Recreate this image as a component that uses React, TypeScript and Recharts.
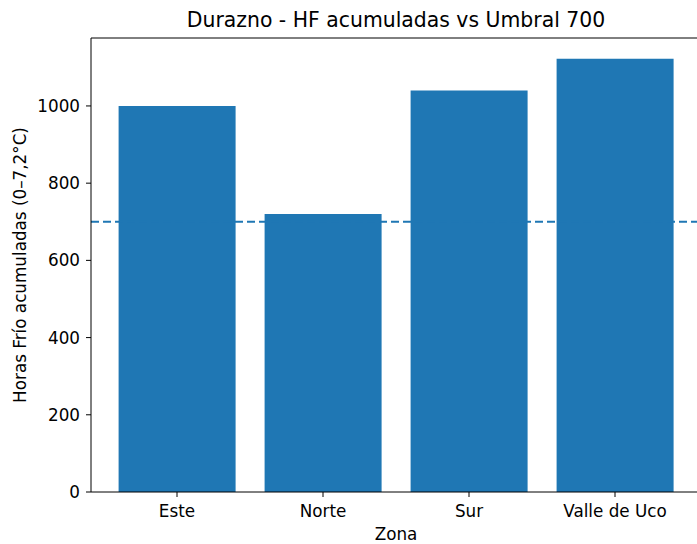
import { BarChart, Bar, XAxis, YAxis, ReferenceLine } from 'recharts'

const zonas = ['Este', 'Norte', 'Sur', 'Valle de Uco']
const horasFrio = [1000, 720, 1040, 1122]
const umbral = 700
const yTicks = [0, 200, 400, 600, 800, 1000]

const data = zonas.map((zona, i) => ({ zona, hf: horasFrio[i] }))

const font = 'DejaVu Sans, sans-serif'
const blue = '#1f77b4'
const fs = 16.8

export default function App() {
  return (
    <div
      style={{
        position: 'fixed',
        top: 0,
        left: 0,
        width: 697,
        height: 544,
        overflow: 'hidden',
        background: '#fff',
        fontFamily: font,
      }}
    >
      <div
        style={{
          position: 'absolute',
          top: 8,
          left: 91,
          width: 610,
          textAlign: 'center',
          fontSize: 20.4,
          lineHeight: '24px',
          color: '#000',
        }}
      >
        Durazno - HF acumuladas vs Umbral 700
      </div>
      <BarChart
        width={710}
        height={544}
        data={data}
        margin={{ top: 38, right: 9, bottom: 0, left: 0 }}
        barCategoryGap="10%"
      >
        <XAxis
          dataKey="zona"
          height={52}
          padding={{ left: 13, right: 13 }}
          axisLine={{ stroke: '#000', strokeWidth: 1 }}
          tickLine={{ stroke: '#000' }}
          tickSize={5}
          tick={{ fill: '#000', fontSize: fs, fontFamily: font, dy: 6 }}
          label={{ value: 'Zona', position: 'insideBottom', offset: 0, dy: -4, fill: '#000', fontSize: fs, fontFamily: font }}
        />
        <YAxis
          domain={[0, 1176]}
          ticks={yTicks}
          allowDataOverflow
          width={91}
          axisLine={{ stroke: '#000', strokeWidth: 1 }}
          tickLine={{ stroke: '#000' }}
          tickSize={5}
          tick={{ fill: '#000', fontSize: fs, fontFamily: font, dx: -4 }}
          label={{
            value: 'Horas Frío acumuladas (0–7,2°C)',
            angle: -90,
            position: 'insideLeft',
            dx: 15,
            fill: '#000',
            fontSize: fs,
            fontFamily: font,
            style: { textAnchor: 'middle' },
          }}
        />
        <Bar dataKey="hf" fill={blue} isAnimationActive={false} />
        <ReferenceLine y={umbral} stroke={blue} strokeWidth={2} strokeDasharray="8 4" />
        <ReferenceLine y={1176} stroke="#000" strokeWidth={1} />
      </BarChart>
    </div>
  )
}
